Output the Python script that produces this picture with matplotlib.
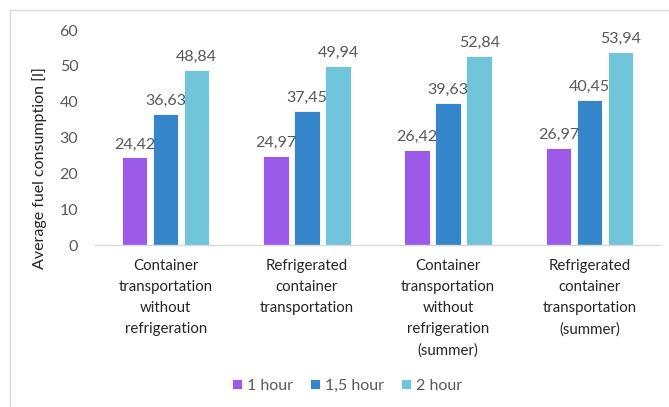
import matplotlib
matplotlib.use("Agg")
import matplotlib.pyplot as plt
from matplotlib.patches import Rectangle
import numpy as np

categories = [
    "Container\ntransportation\nwithout\nrefrigeration",
    "Refrigerated\ncontainer\ntransportation",
    "Container\ntransportation\nwithout\nrefrigeration\n(summer)",
    "Refrigerated\ncontainer\ntransportation\n(summer)",
]
series_names = ["1 hour", "1,5 hour", "2 hour"]
hour_1 = [24.42, 24.97, 26.42, 26.97]
hour_1_5 = [36.63, 37.45, 39.63, 40.45]
hour_2 = [48.84, 49.94, 52.84, 53.94]
colors = ["#9B5BE8", "#3485C9", "#71C5DA"]
y_ticks = [0, 10, 20, 30, 40, 50, 60]

plt.rcParams["font.family"] = ["Lato", "DejaVu Sans"]
text_color = "#595959"

fig = plt.figure(figsize=(6.69, 4.07), dpi=100)
# outer chart frame
fig.patches.append(Rectangle((10 / 669, -0.01), 1.0, 1 - 10 / 407 + 0.01,
                             transform=fig.transFigure, fill=False,
                             edgecolor="#D9D9D9", linewidth=1.0))

ax = fig.add_axes([95 / 669, 1 - 245 / 407, 565 / 669, 215 / 407])

x = np.arange(len(categories))
step = 0.22
width = 0.18
for i, (vals, name, c) in enumerate(zip([hour_1, hour_1_5, hour_2], series_names, colors)):
    pos = x + (i - 1) * step
    ax.bar(pos, vals, width, color=c, label=name, edgecolor="white", linewidth=0.6)
    for xp, v in zip(pos, vals):
        ax.text(xp, v + 1.7, f"{v:.2f}".replace(".", ","), ha="center", va="bottom",
                fontsize=11.5, color=text_color)

ax.set_xlim(-0.5, len(categories) - 0.5)
ax.set_ylim(0, 60)
ax.set_yticks(y_ticks)
ax.set_yticklabels([str(t) for t in y_ticks], fontsize=11.5, color=text_color)
ax.set_xticks(x)
ax.set_xticklabels(categories, fontsize=10.8, color="#262626", linespacing=1.65)
ax.tick_params(axis="both", length=0)
ax.tick_params(axis="x", pad=10)
ax.tick_params(axis="y", pad=12)
for s in ["top", "right", "left"]:
    ax.spines[s].set_visible(False)
ax.spines["bottom"].set_color("#D9D9D9")
ax.spines["bottom"].set_linewidth(1.0)

ax.set_ylabel("Average fuel consumption [l]", fontsize=11.5, color="#262626")
ax.yaxis.set_label_coords(-0.085, 0.36)

leg = fig.legend(loc="center", bbox_to_anchor=(347 / 669, 1 - 386 / 407), ncol=3,
                 frameon=False, fontsize=11.5, handlelength=0.6, handleheight=0.6,
                 handletextpad=0.3, columnspacing=1.1)
for t in leg.get_texts():
    t.set_color(text_color)

fig.savefig("out.png", dpi=100)
